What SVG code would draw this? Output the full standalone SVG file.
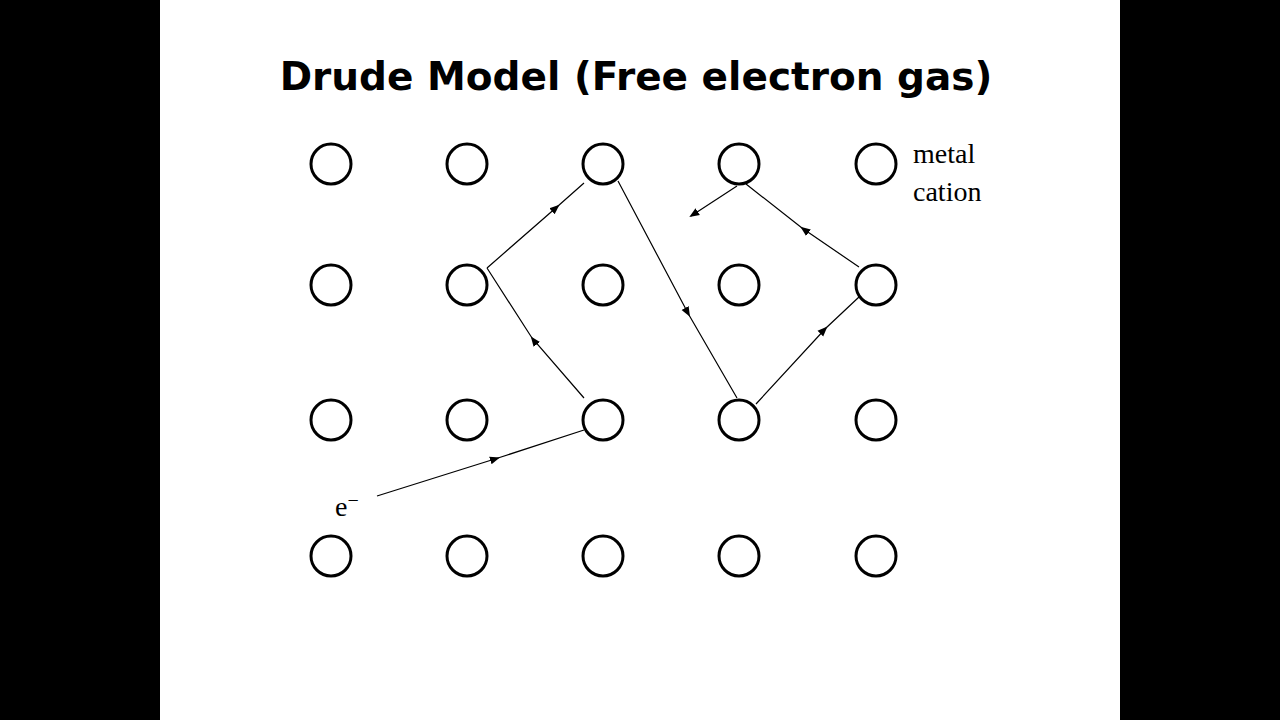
<svg xmlns="http://www.w3.org/2000/svg" width="1280" height="720" viewBox="0 0 1280 720">
<style>
.c{fill:none;stroke:#000;stroke-width:3}
.l{fill:none;stroke:#000;stroke-width:1.2}
.t{font-family:"Liberation Serif",serif;font-size:28px}
</style>
<defs>
<marker id="a" viewBox="0 0 10 10" refX="8" refY="5" markerWidth="10" markerHeight="10" markerUnits="userSpaceOnUse" orient="auto"><path d="M0,1 L10,5 L0,9 Z"/></marker>
</defs>
<rect width="1280" height="720" fill="#000"/>
<rect x="160" width="960" height="720" fill="#fff"/>
<text x="636" y="90" text-anchor="middle" font-family="DejaVu Sans,sans-serif" font-weight="bold" font-size="39">Drude Model (Free electron gas)</text>
<g id="cations">
<circle class="c" cx="331" cy="164" r="20"/><circle class="c" cx="467" cy="164" r="20"/><circle class="c" cx="603" cy="164" r="20"/><circle class="c" cx="739" cy="164" r="20"/><circle class="c" cx="876" cy="164" r="20"/>
<circle class="c" cx="331" cy="285" r="20"/><circle class="c" cx="467" cy="285" r="20"/><circle class="c" cx="603" cy="285" r="20"/><circle class="c" cx="739" cy="285" r="20"/><circle class="c" cx="876" cy="285" r="20"/>
<circle class="c" cx="331" cy="420" r="20"/><circle class="c" cx="467" cy="420" r="20"/><circle class="c" cx="603" cy="420" r="20"/><circle class="c" cx="739" cy="420" r="20"/><circle class="c" cx="876" cy="420" r="20"/>
<circle class="c" cx="331" cy="556" r="20"/><circle class="c" cx="467" cy="556" r="20"/><circle class="c" cx="603" cy="556" r="20"/><circle class="c" cx="739" cy="556" r="20"/><circle class="c" cx="876" cy="556" r="20"/>
</g>
<g id="connectors">
<path class="l" marker-mid="url(#a)" d="M377,496 L498,458 L584,430"/>
<path class="l" marker-mid="url(#a)" d="M584,398 L532,338 L487,268"/>
<path class="l" marker-mid="url(#a)" d="M487,268 L558,206 L584,183"/>
<path class="l" marker-mid="url(#a)" d="M618,181 L689,315 L737,398"/>
<path class="l" marker-mid="url(#a)" d="M756,404 L826,328 L859,297"/>
<path class="l" marker-mid="url(#a)" d="M859,267 L802,228 L746,184"/>
<path class="l" marker-end="url(#a)" d="M737,186 L691,216"/>
</g>
<text class="t" x="913" y="163">metal</text>
<text class="t" x="913" y="201">cation</text>
<text class="t" x="335" y="516">e<tspan font-size="20" dy="-9">−</tspan></text>
</svg>
